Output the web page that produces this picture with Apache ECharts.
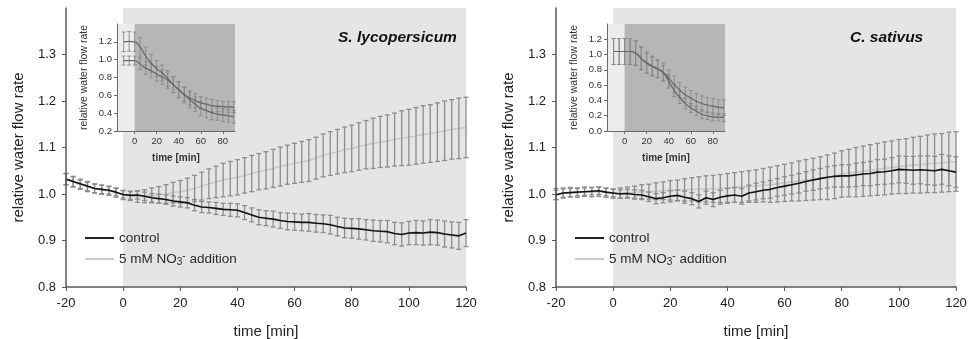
<!DOCTYPE html>
<html>
<head>
<meta charset="utf-8">
<title>relative water flow rate</title>
<script src="https://cdn.jsdelivr.net/npm/echarts@6/dist/echarts.min.js"></script>
<style>
  html, body { margin: 0; padding: 0; background: #fff; }
  #chart { width: 976px; height: 339px; }
</style>
</head>
<body>
<div id="chart"></div>
<script>
// time axis of the main plots (min), one value every 2.5 min
const mainTimes = [-20, -17.5, -15, -12.5, -10, -7.5, -5, -2.5, 0, 2.5, 5, 7.5, 10, 12.5, 15, 17.5,
  20, 22.5, 25, 27.5, 30, 32.5, 35, 37.5, 40, 42.5, 45, 47.5, 50, 52.5, 55, 57.5,
  60, 62.5, 65, 67.5, 70, 72.5, 75, 77.5, 80, 82.5, 85, 87.5, 90, 92.5, 95, 97.5,
  100, 102.5, 105, 107.5, 110, 112.5, 115, 117.5, 120];

// S. lycopersicum
const tomatoControl = [1.032, 1.027, 1.022, 1.017, 1.012, 1.010, 1.008, 1.004,
  0.999, 0.997, 0.998, 0.995, 0.992, 0.990, 0.988, 0.985,
  0.983, 0.981, 0.976, 0.972, 0.971, 0.969, 0.967, 0.966,
  0.965, 0.960, 0.955, 0.950, 0.948, 0.946, 0.943, 0.941,
  0.940, 0.939, 0.939, 0.937, 0.936, 0.934, 0.930, 0.927,
  0.926, 0.925, 0.923, 0.921, 0.920, 0.919, 0.915, 0.913,
  0.916, 0.917, 0.916, 0.918, 0.917, 0.914, 0.912, 0.910,
  0.916];
const tomatoControlErr = [0.012, 0.011, 0.010, 0.010, 0.009, 0.009, 0.008, 0.008,
  0.008, 0.008, 0.009, 0.009, 0.009, 0.010, 0.010, 0.011,
  0.011, 0.011, 0.012, 0.012, 0.012, 0.013, 0.013, 0.014,
  0.014, 0.015, 0.015, 0.016, 0.016, 0.017, 0.017, 0.018,
  0.018, 0.018, 0.019, 0.019, 0.019, 0.020, 0.020, 0.021,
  0.021, 0.022, 0.022, 0.023, 0.023, 0.024, 0.024, 0.025,
  0.025, 0.026, 0.026, 0.027, 0.027, 0.028, 0.028, 0.029,
  0.029];
const tomatoNitrate = [1.032, 1.026, 1.020, 1.015, 1.012, 1.009, 1.007, 1.003,
  0.998, 0.996, 0.994, 0.995, 0.997, 0.998, 1.000, 1.003,
  1.005, 1.008, 1.012, 1.017, 1.022, 1.026, 1.030, 1.033,
  1.036, 1.040, 1.044, 1.048, 1.051, 1.055, 1.059, 1.063,
  1.066, 1.069, 1.072, 1.077, 1.083, 1.087, 1.091, 1.095,
  1.098, 1.102, 1.106, 1.109, 1.112, 1.114, 1.117, 1.120,
  1.122, 1.125, 1.128, 1.130, 1.133, 1.136, 1.139, 1.141,
  1.143];
const tomatoNitrateErr = [0.012, 0.011, 0.010, 0.010, 0.010, 0.010, 0.010, 0.010,
  0.010, 0.010, 0.012, 0.014, 0.016, 0.018, 0.020, 0.022,
  0.024, 0.026, 0.028, 0.030, 0.032, 0.034, 0.036, 0.037,
  0.038, 0.038, 0.039, 0.039, 0.040, 0.041, 0.042, 0.042,
  0.043, 0.044, 0.045, 0.045, 0.046, 0.047, 0.048, 0.049,
  0.050, 0.051, 0.052, 0.054, 0.055, 0.056, 0.057, 0.059,
  0.060, 0.061, 0.062, 0.062, 0.063, 0.064, 0.064, 0.065,
  0.065];

// C. sativus
const cucumberControl = [0.998, 1.002, 1.003, 1.004, 1.005, 1.006, 1.007, 1.004,
  1.002, 1.000, 1.001, 0.999, 0.998, 0.994, 0.990, 0.992,
  0.995, 0.997, 0.993, 0.990, 0.984, 0.992, 0.988, 0.993,
  0.996, 0.998, 0.995, 1.002, 1.005, 1.008, 1.010, 1.014,
  1.017, 1.020, 1.023, 1.027, 1.030, 1.033, 1.036, 1.038,
  1.039, 1.039, 1.041, 1.043, 1.044, 1.047, 1.048, 1.050,
  1.053, 1.052, 1.051, 1.052, 1.051, 1.050, 1.053, 1.050,
  1.047];
const cucumberControlErr = [0.010, 0.009, 0.009, 0.008, 0.008, 0.008, 0.008, 0.008,
  0.008, 0.009, 0.009, 0.010, 0.010, 0.010, 0.011, 0.011,
  0.012, 0.012, 0.013, 0.013, 0.014, 0.014, 0.015, 0.015,
  0.016, 0.016, 0.017, 0.017, 0.018, 0.018, 0.019, 0.019,
  0.020, 0.020, 0.021, 0.021, 0.022, 0.022, 0.023, 0.023,
  0.024, 0.024, 0.025, 0.025, 0.026, 0.027, 0.027, 0.028,
  0.029, 0.029, 0.030, 0.030, 0.031, 0.031, 0.032, 0.032,
  0.033];
const cucumberNitrate = [1.000, 1.002, 1.004, 1.003, 1.005, 1.004, 1.005, 1.003,
  1.001, 1.002, 1.003, 1.004, 1.005, 1.005, 1.006, 1.007,
  1.008, 1.008, 1.009, 1.010, 1.010, 1.011, 1.011, 1.012,
  1.013, 1.014, 1.015, 1.016, 1.017, 1.019, 1.020, 1.022,
  1.024, 1.026, 1.028, 1.030, 1.032, 1.034, 1.036, 1.039,
  1.043, 1.045, 1.047, 1.049, 1.051, 1.053, 1.055, 1.057,
  1.059, 1.060, 1.062, 1.063, 1.065, 1.066, 1.067, 1.069,
  1.070];
const cucumberNitrateErr = [0.012, 0.011, 0.010, 0.010, 0.010, 0.010, 0.010, 0.010,
  0.010, 0.011, 0.012, 0.013, 0.015, 0.016, 0.018, 0.019,
  0.021, 0.022, 0.024, 0.025, 0.027, 0.028, 0.029, 0.030,
  0.031, 0.032, 0.033, 0.034, 0.035, 0.036, 0.038, 0.039,
  0.040, 0.041, 0.043, 0.044, 0.045, 0.046, 0.048, 0.049,
  0.050, 0.051, 0.053, 0.054, 0.055, 0.056, 0.057, 0.057,
  0.058, 0.059, 0.060, 0.061, 0.062, 0.063, 0.063, 0.064,
  0.064];

// insets, one value every 5 min
const insetTimes = [-10, -5, 0, 5, 10, 15, 20, 25, 30, 35, 40, 45, 50, 55, 60, 65, 70, 75, 80, 85, 90];
const tomatoInsetUpper = [1.20, 1.205, 1.20, 1.14, 1.04, 0.96, 0.90, 0.85, 0.79, 0.72, 0.66, 0.61, 0.57, 0.54, 0.515, 0.50, 0.485, 0.478, 0.473, 0.47, 0.466];
const tomatoInsetUpperErr = [0.11, 0.11, 0.11, 0.11, 0.10, 0.10, 0.09, 0.09, 0.09, 0.09, 0.09, 0.08, 0.08, 0.08, 0.07, 0.07, 0.07, 0.06, 0.06, 0.06, 0.06];
const tomatoInsetLower = [0.99, 0.99, 0.99, 0.95, 0.905, 0.875, 0.84, 0.805, 0.77, 0.72, 0.665, 0.605, 0.55, 0.50, 0.455, 0.43, 0.406, 0.39, 0.38, 0.37, 0.36];
const tomatoInsetLowerErr = [0.05, 0.05, 0.05, 0.06, 0.07, 0.08, 0.08, 0.08, 0.09, 0.09, 0.09, 0.09, 0.09, 0.08, 0.08, 0.08, 0.08, 0.07, 0.07, 0.07, 0.07];
const cucumberInsetUpper = [1.04, 1.04, 1.04, 1.04, 1.02, 0.95, 0.895, 0.85, 0.815, 0.77, 0.69, 0.61, 0.535, 0.475, 0.43, 0.39, 0.36, 0.34, 0.325, 0.31, 0.305];
const cucumberInsetUpperErr = [0.17, 0.17, 0.17, 0.17, 0.16, 0.15, 0.14, 0.13, 0.12, 0.12, 0.11, 0.11, 0.10, 0.10, 0.10, 0.10, 0.10, 0.10, 0.10, 0.10, 0.10];
const cucumberInsetLower = [1.04, 1.04, 1.04, 1.04, 1.02, 0.95, 0.885, 0.845, 0.81, 0.76, 0.65, 0.53, 0.44, 0.36, 0.30, 0.26, 0.22, 0.20, 0.185, 0.18, 0.177];
const cucumberInsetLowerErr = [0.17, 0.17, 0.17, 0.17, 0.16, 0.15, 0.13, 0.12, 0.11, 0.10, 0.09, 0.08, 0.08, 0.07, 0.06, 0.06, 0.06, 0.05, 0.05, 0.05, 0.05];

// tick labels
const mainXTicks = [-20, 0, 20, 40, 60, 80, 100, 120];
const mainYTicks = [0.8, 0.9, 1.0, 1.1, 1.2, 1.3];
const insetXTicks = [0, 20, 40, 60, 80];
const tomatoInsetYTicks = [0.2, 0.4, 0.6, 0.8, 1.0, 1.2];
const cucumberInsetYTicks = [0.0, 0.2, 0.4, 0.6, 0.8, 1.0, 1.2];

const treatmentStart = 0;   // NO3- added at t = 0

const FONT = '"Liberation Sans", Arial, Helvetica, sans-serif';

const panels = [
  {
    title: 'S. lycopersicum', titleLeft: 338, left: 66, insetLeft: 117, legendLeft: 80,
    control: tomatoControl, controlErr: tomatoControlErr,
    nitrate: tomatoNitrate, nitrateErr: tomatoNitrateErr,
    insetUpper: tomatoInsetUpper, insetUpperErr: tomatoInsetUpperErr,
    insetLower: tomatoInsetLower, insetLowerErr: tomatoInsetLowerErr,
    insetYMin: 0.2, insetYTicks: tomatoInsetYTicks
  },
  {
    title: 'C. sativus', titleLeft: 850, left: 556, insetLeft: 607, legendLeft: 570,
    control: cucumberControl, controlErr: cucumberControlErr,
    nitrate: cucumberNitrate, nitrateErr: cucumberNitrateErr,
    insetUpper: cucumberInsetUpper, insetUpperErr: cucumberInsetUpperErr,
    insetLower: cucumberInsetLower, insetLowerErr: cucumberInsetLowerErr,
    insetYMin: 0.0, insetYTicks: cucumberInsetYTicks
  }
];

function pairs(times, vals) {
  return times.map((t, i) => [t, vals[i]]);
}
function errRows(times, vals, errs) {
  return times.map((t, i) => [t, vals[i] - errs[i], vals[i] + errs[i]]);
}

function errorBarRenderer(color, cap, width) {
  return function (params, api) {
    const top = api.coord([api.value(0), api.value(2)]);
    const bot = api.coord([api.value(0), api.value(1)]);
    const style = { stroke: color, lineWidth: width };
    return {
      type: 'group',
      children: [
        { type: 'line', shape: { x1: top[0], y1: top[1], x2: bot[0], y2: bot[1] }, style: style },
        { type: 'line', shape: { x1: top[0] - cap, y1: top[1], x2: top[0] + cap, y2: top[1] }, style: style },
        { type: 'line', shape: { x1: bot[0] - cap, y1: bot[1], x2: bot[0] + cap, y2: bot[1] }, style: style }
      ]
    };
  };
}

const grid = [], xAxis = [], yAxis = [], series = [], title = [], legend = [];

panels.forEach((p, k) => {
  const mg = k * 2, ig = k * 2 + 1;

  grid.push({ left: p.left, top: 8, width: 400, height: 279, outerBoundsMode: 'none' });
  grid.push({ left: p.insetLeft, top: 24, width: 118, height: 107, outerBoundsMode: 'none' });

  xAxis.push({
    gridIndex: mg, type: 'value', min: -20, max: 120, interval: 20, z: 5,
    axisLine: { show: true, onZero: false, lineStyle: { color: '#5a5a5a', width: 1.5 } },
    axisTick: { show: true, length: 4, customValues: mainXTicks, lineStyle: { color: '#5a5a5a' } },
    splitLine: { show: false },
    axisLabel: { fontSize: 13, color: '#222', margin: 10, fontFamily: FONT, customValues: mainXTicks },
    name: 'time [min]', nameLocation: 'middle', nameGap: 37,
    nameTextStyle: { fontSize: 15, color: '#222', fontFamily: FONT }
  });
  xAxis.push({
    gridIndex: ig, type: 'value', min: -16, max: 91, z: 13,
    axisLine: { show: true, onZero: false, lineStyle: { color: '#6a6a6a', width: 1 } },
    axisTick: { show: true, length: 3, customValues: insetXTicks, lineStyle: { color: '#6a6a6a' } },
    splitLine: { show: false },
    axisLabel: { fontSize: 9.5, color: '#333', margin: 5, fontFamily: FONT, customValues: insetXTicks },
    name: 'time [min]', nameLocation: 'middle', nameGap: 22,
    nameTextStyle: { fontSize: 10, fontWeight: 'bold', color: '#333', fontFamily: FONT }
  });

  yAxis.push({
    gridIndex: mg, type: 'value', min: 0.8, max: 1.4, interval: 0.1, z: 5,
    axisLine: { show: true, onZero: false, lineStyle: { color: '#5a5a5a', width: 1.5 } },
    axisTick: { show: true, length: 4, customValues: mainYTicks, lineStyle: { color: '#5a5a5a' } },
    splitLine: { show: false },
    axisLabel: { fontSize: 13, color: '#222', margin: 10, fontFamily: FONT, customValues: mainYTicks,
      formatter: v => v.toFixed(1) },
    name: 'relative water flow rate', nameLocation: 'middle', nameGap: 40, nameRotate: 90,
    nameTextStyle: { fontSize: 15, color: '#222', fontFamily: FONT }
  });
  yAxis.push({
    gridIndex: ig, type: 'value', min: p.insetYMin, max: 1.4, interval: 0.2, z: 13,
    axisLine: { show: true, onZero: false, lineStyle: { color: '#6a6a6a', width: 1 } },
    axisTick: { show: true, length: 3, customValues: p.insetYTicks, lineStyle: { color: '#6a6a6a' } },
    splitLine: { show: false },
    axisLabel: { fontSize: 9.5, color: '#333', margin: 5, fontFamily: FONT, customValues: p.insetYTicks,
      formatter: v => v.toFixed(1) },
    name: 'relative water flow rate', nameLocation: 'middle', nameGap: 27, nameRotate: 90,
    nameTextStyle: { fontSize: 10.5, color: '#333', fontFamily: FONT }
  });

  // grey shading after the treatment
  series.push({
    type: 'custom', xAxisIndex: mg, yAxisIndex: mg, z: 0, silent: true,
    data: [[treatmentStart, 120]], encode: { x: [0, 1] },
    renderItem: (params, api) => {
      const cs = params.coordSys;
      const x0 = api.coord([api.value(0), 1])[0];
      const x1 = api.coord([api.value(1), 1])[0];
      return { type: 'rect', shape: { x: x0, y: cs.y, width: x1 - x0, height: cs.height },
        style: { fill: '#e5e5e5' } };
    }
  });
  series.push({
    type: 'line', name: 'nitrate', xAxisIndex: mg, yAxisIndex: mg, z: 2,
    data: pairs(mainTimes, p.nitrate), symbol: 'none',
    lineStyle: { color: '#c8c8c8', width: 1.5 }, itemStyle: { color: '#cbcbcb' }
  });
  series.push({
    type: 'custom', xAxisIndex: mg, yAxisIndex: mg, z: 3, silent: true,
    data: errRows(mainTimes, p.nitrate, p.nitrateErr), encode: { x: 0, y: [1, 2] },
    renderItem: errorBarRenderer('#8c8c8c', 2.5, 1.3)
  });
  series.push({
    type: 'custom', xAxisIndex: mg, yAxisIndex: mg, z: 3, silent: true,
    data: errRows(mainTimes, p.control, p.controlErr), encode: { x: 0, y: [1, 2] },
    renderItem: errorBarRenderer('#8c8c8c', 2.5, 1.3)
  });
  series.push({
    type: 'line', name: 'control', xAxisIndex: mg, yAxisIndex: mg, z: 4,
    data: pairs(mainTimes, p.control), symbol: 'none',
    lineStyle: { color: '#111', width: 1.6 }, itemStyle: { color: '#222' }
  });

  // inset
  series.push({
    type: 'custom', xAxisIndex: ig, yAxisIndex: ig, z: 10, silent: true,
    data: [[treatmentStart]], encode: { x: 0 },
    renderItem: (params, api) => {
      const cs = params.coordSys;
      const x0 = api.coord([api.value(0), 1])[0];
      return {
        type: 'group',
        children: [
          { type: 'rect', shape: { x: cs.x, y: cs.y, width: cs.width, height: cs.height }, style: { fill: '#ececec' } },
          { type: 'rect', shape: { x: x0, y: cs.y, width: cs.x + cs.width - x0, height: cs.height }, style: { fill: '#b6b6b6' } }
        ]
      };
    }
  });
  [[p.insetUpper, p.insetUpperErr], [p.insetLower, p.insetLowerErr]].forEach(([vals, errs]) => {
    series.push({
      type: 'custom', xAxisIndex: ig, yAxisIndex: ig, z: 11, silent: true,
      data: errRows(insetTimes, vals, errs), encode: { x: 0, y: [1, 2] },
      renderItem: errorBarRenderer('#888', 2, 0.9)
    });
    series.push({
      type: 'line', xAxisIndex: ig, yAxisIndex: ig, z: 12, smooth: true,
      data: pairs(insetTimes, vals), symbol: 'none',
      lineStyle: { color: '#666', width: 1.2 }
    });
  });

  title.push({
    text: p.title, left: p.titleLeft, top: 30, padding: 0,
    textStyle: { fontSize: 15.5, fontWeight: 'bold', fontStyle: 'italic', color: '#111', fontFamily: FONT }
  });
  legend.push({
    left: p.legendLeft, top: 225, orient: 'vertical', icon: 'rect',
    itemWidth: 29, itemHeight: 2, itemGap: 5,
    selectedMode: false, data: ['control', 'nitrate'],
    formatter: name => name === 'nitrate' ? '5 mM NO{sub|3}{sup|-} addition' : name,
    textStyle: {
      fontSize: 13.5, color: '#2a2a2a', fontFamily: FONT, lineHeight: 16,
      rich: {
        sub: { fontSize: 10, lineHeight: 10, verticalAlign: 'bottom', color: '#2a2a2a', fontFamily: FONT },
        sup: { fontSize: 10, lineHeight: 10, verticalAlign: 'top', color: '#2a2a2a', fontFamily: FONT }
      }
    }
  });
});

const chart = echarts.init(document.getElementById('chart'));
chart.setOption({
  animation: false,
  backgroundColor: '#fff',
  textStyle: { fontFamily: FONT },
  title: title,
  legend: legend,
  grid: grid,
  xAxis: xAxis,
  yAxis: yAxis,
  series: series
});
</script>
</body>
</html>
